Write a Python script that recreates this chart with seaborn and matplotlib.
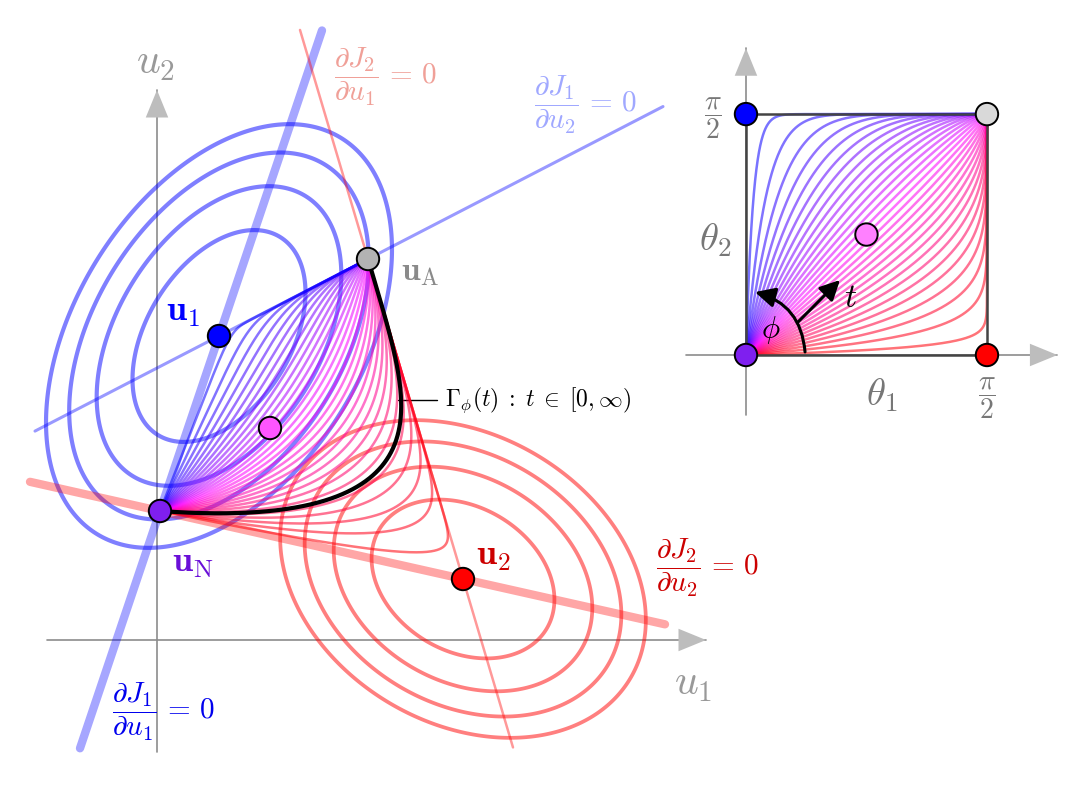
import numpy as np
import matplotlib
matplotlib.use("Agg")
import matplotlib.pyplot as plt
import seaborn as sns

sns.set_theme(style="white")
plt.rcParams['mathtext.fontset'] = 'cm'
plt.rcParams['font.family'] = ['DejaVu Serif', 'DejaVu Sans']

# key points in the (u1, u2) plane
u_one = (0.62, 3.04)    # minimiser of J1
u_two = (3.06, 0.61)    # minimiser of J2
u_nash = (0.03, 1.29)   # Nash point
u_a = (2.11, 3.81)      # u_A
u_mid = (1.13, 2.12)    # image of the square centre

# Hessians of the two quadratic costs and the drawn level values
H1 = np.array([[3.0, -1.0], [-1.0, 2.0]])
H2 = np.array([[1.0, 0.297], [0.297, 1.325]])
levels_j1 = [1.87, 3.74, 5.61, 7.48]
levels_j2 = [0.78, 1.56, 2.34, 3.12]

# u1 extent of the four stationarity lines
span_dj1_du1 = (-0.77, 1.65)
span_dj1_du2 = (-1.22, 5.06)
span_dj2_du2 = (-1.27, 5.08)
span_dj2_du1 = (1.43, 3.56)

# fan of paths: direction angle phi at the origin of the square
phis = np.linspace(0.03, np.pi / 2 - 0.03, 31)
phi_gamma = 0.25
half_pi = np.pi / 2


def line_through(p, q, span):
    x = np.array(span)
    return x, p[1] + (x - p[0]) * (q[1] - p[1]) / (q[0] - p[0])


def path_s(phi):
    a, b = np.cos(phi), np.sin(phi)
    m = max(a, b)
    a, b = a / m, b / m
    w = np.concatenate([[0], np.geomspace(1e-3, 14 / min(a, b), 1500)])
    return 1 - np.exp(-a * w), 1 - np.exp(-b * w)


def to_u(s1, s2):
    pn, p2, p1, pa = map(np.array, (u_nash, u_two, u_one, u_a))
    d = pa - p2 - p1 + pn
    x = pn[0] + s1 * (p2 - pn)[0] + s2 * (p1 - pn)[0] + s1 * s2 * d[0]
    y = pn[1] + s1 * (p2 - pn)[1] + s2 * (p1 - pn)[1] + s1 * s2 * d[1]
    return x, y


def fan_color(phi):
    f = phi / half_pi
    return (min(1, 2 * (1 - f)), 0.0, min(1, 2 * f))


def quad(H, c, X, Y):
    dx, dy = X - c[0], Y - c[1]
    return H[0, 0] * dx * dx + 2 * H[0, 1] * dx * dy + H[1, 1] * dy * dy


def axis_arrow(ax, start, tip, head_from):
    ax.plot([start[0], tip[0]], [start[1], tip[1]], color='#8c8c8c', lw=1.2, zorder=0.5)
    ax.annotate('', xy=tip, xytext=head_from,
                arrowprops=dict(arrowstyle='-|>,head_length=1.1,head_width=0.45',
                                fc='#bdbdbd', ec='none', lw=0, mutation_scale=18,
                                shrinkA=0, shrinkB=0), zorder=0.6)


fig = plt.figure(figsize=(10.8, 7.95), dpi=100)

# ---------------- left panel: (u1, u2) plane ----------------
ax = fig.add_axes([0, 0, 720 / 1080, 1])
ax.set_xlim(-1.57, 5.63)
ax.set_ylim(-1.55, 6.40)
ax.axis('off')

axis_arrow(ax, (0, -1.12), (0, 5.50), (0, 5.34))
axis_arrow(ax, (-1.10, 0), (5.49, 0), (5.33, 0))

gx, gy = np.meshgrid(np.linspace(-1.6, 5.7, 500), np.linspace(-1.6, 6.5, 500))
ax.contour(gx, gy, quad(H1, u_one, gx, gy), levels=levels_j1, colors='#0000ff',
           linewidths=3.0, alpha=0.5, zorder=1)
ax.contour(gx, gy, quad(H2, u_two, gx, gy), levels=levels_j2, colors='#ff0000',
           linewidths=2.7, alpha=0.5, zorder=1)

x, y = line_through(u_nash, u_one, span_dj1_du1)
sns.lineplot(x=x, y=y, ax=ax, color='#0000ff', lw=6, alpha=0.35, zorder=2)
x, y = line_through(u_one, u_a, span_dj1_du2)
sns.lineplot(x=x, y=y, ax=ax, color='#0000ff', lw=2.2, alpha=0.4, zorder=2)
x, y = line_through(u_nash, u_two, span_dj2_du2)
sns.lineplot(x=x, y=y, ax=ax, color='#ff0000', lw=6, alpha=0.35, zorder=2)
x, y = line_through(u_two, u_a, span_dj2_du1)
sns.lineplot(x=x, y=y, ax=ax, color='#ff0000', lw=1.8, alpha=0.4, zorder=2)

for phi in phis:
    s1, s2 = path_s(phi)
    ux, uy = to_u(s1, s2)
    ax.plot(ux, uy, color=fan_color(phi), lw=1.8, alpha=0.55, zorder=3,
            solid_capstyle='butt')

s1, s2 = path_s(phi_gamma)
gx_, gy_ = to_u(s1, s2)
ax.plot(gx_, gy_, color='black', lw=3, zorder=4)

pts = {'u1': u_one, 'u2': u_two, 'uN': u_nash, 'uA': u_a, 'mid': u_mid}
cols = {'u1': '#0000ff', 'u2': '#ff0000', 'uN': '#7f1fef', 'uA': '#b3b3b3', 'mid': '#ff55ff'}
sns.scatterplot(x=[p[0] for p in pts.values()], y=[p[1] for p in pts.values()],
                hue=list(pts.keys()), palette=cols, s=260, edgecolor='black',
                linewidth=1.4, legend=False, ax=ax, zorder=6)

ax.text(-0.02, 5.78, r'$u_2$', fontsize=30, color='#999999', ha='center', va='center')
ax.text(5.36, -0.43, r'$u_1$', fontsize=30, color='#999999', ha='center', va='center')
ax.text(0.26, 3.28, r'$\mathbf{u}_1$', fontsize=26, color='#0000ff', ha='center', va='center')
ax.text(2.63, 3.68, r'$\mathbf{u}_\mathrm{A}$', fontsize=24, color='#8a8a8a', ha='center', va='center')
ax.text(0.36, 0.77, r'$\mathbf{u}_\mathrm{N}$', fontsize=26, color='#6a0fd8', ha='center', va='center')
ax.text(3.37, 0.84, r'$\mathbf{u}_2$', fontsize=26, color='#cc0000', ha='center', va='center')

ax.text(2.28, 5.63, r'$\dfrac{\partial J_2}{\partial u_1}\,=\,0$', fontsize=21, color='#f0a098',
        ha='center', va='center')
ax.text(4.28, 5.35, r'$\dfrac{\partial J_1}{\partial u_2}\,=\,0$', fontsize=21, color='#a0a8ff',
        ha='center', va='center')
ax.text(5.50, 0.72, r'$\dfrac{\partial J_2}{\partial u_2}\,=\,0$', fontsize=21, color='#cc0000',
        ha='center', va='center')
ax.text(0.06, -0.72, r'$\dfrac{\partial J_1}{\partial u_1}\,=\,0$', fontsize=21, color='#0000ee',
        ha='center', va='center')

ax.plot([2.41, 2.80], [2.40, 2.40], color='black', lw=1.0)
ax.text(2.88, 2.40, r'$\Gamma_\phi(t)\;:\;t\;\in\;[0,\infty)$', fontsize=17, color='black',
        ha='left', va='center')

# ---------------- right panel: (theta1, theta2) square ----------------
ai = fig.add_axes([680 / 1080, (795 - 430) / 795, 390 / 1080, 400 / 795])
ai.set_xlim(-0.430, 2.112)
ai.set_ylim(-0.489, 2.119)
ai.axis('off')

axis_arrow(ai, (0, -0.39), (0, 2.0), (0, 1.89))
axis_arrow(ai, (-0.39, 0), (2.03, 0), (1.92, 0))

for phi in phis:
    s1, s2 = path_s(phi)
    ai.plot(half_pi * s1, half_pi * s2, color=fan_color(phi), lw=1.8, alpha=0.55, zorder=3)

sq_x = [0, half_pi, half_pi, 0, 0]
sq_y = [0, 0, half_pi, half_pi, 0]
ai.plot(sq_x, sq_y, color='#444444', lw=1.8, zorder=4)

corners = {'uN': (0, 0), 'u2': (half_pi, 0), 'uA': (half_pi, half_pi), 'u1': (0, half_pi),
           'mid': (np.pi / 4, np.pi / 4)}
ccols = {'u1': '#0000ff', 'u2': '#ff0000', 'uN': '#7f1fef', 'uA': '#d9d9d9', 'mid': '#ff80ff'}
sns.scatterplot(x=[p[0] for p in corners.values()], y=[p[1] for p in corners.values()],
                hue=list(corners.keys()), palette=ccols, s=260, edgecolor='black',
                linewidth=1.4, legend=False, ax=ai, zorder=6, clip_on=False)

ai.text(-0.215, 1.545, r'$\dfrac{\pi}{2}$', fontsize=20, color='#777777', ha='center', va='center')
ai.text(half_pi, -0.28, r'$\dfrac{\pi}{2}$', fontsize=20, color='#777777', ha='center', va='center')
ai.text(-0.20, 0.75, r'$\theta_2$', fontsize=28, color='#777777', ha='center', va='center')
ai.text(0.887, -0.26, r'$\theta_1$', fontsize=28, color='#777777', ha='center', va='center')
ai.text(0.684, 0.372, r'$t$', fontsize=24, color='black', ha='center', va='center')
ai.text(0.163, 0.163, r'$\phi$', fontsize=22, color='black', ha='center', va='center')

ai.annotate('', xy=(0.059, 0.41), xytext=(0.385, 0.02),
            arrowprops=dict(arrowstyle='-|>,head_length=0.6,head_width=0.3', color='black',
                            lw=2.2, mutation_scale=20, shrinkA=0, shrinkB=0,
                            connectionstyle='arc3,rad=0.35'), zorder=7)
ai.annotate('', xy=(0.613, 0.489), xytext=(0.339, 0.215),
            arrowprops=dict(arrowstyle='-|>,head_length=0.6,head_width=0.3', color='black',
                            lw=2.2, mutation_scale=20, shrinkA=0, shrinkB=0), zorder=7)

fig.savefig('out.png', dpi=100)
